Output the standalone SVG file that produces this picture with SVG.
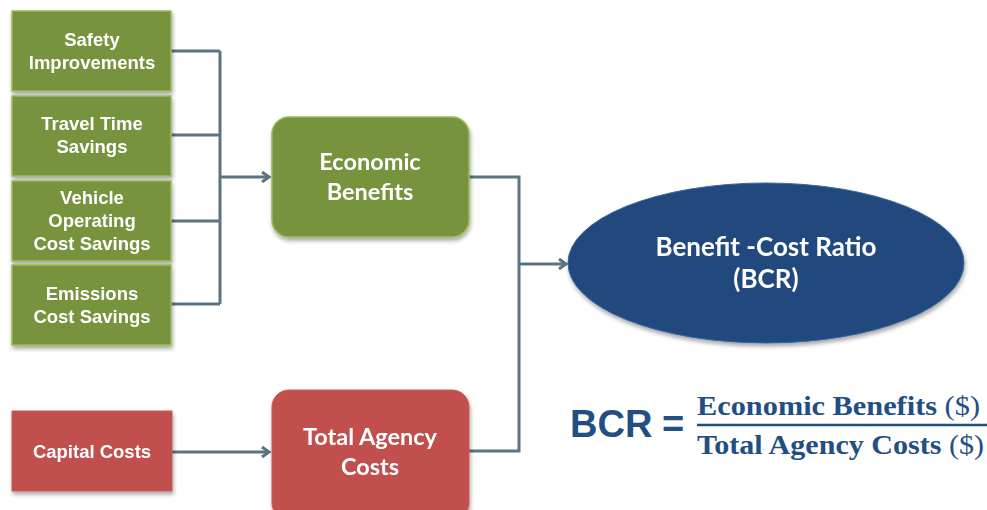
<svg xmlns="http://www.w3.org/2000/svg" width="987" height="510" viewBox="0 0 987 510">
<style>
.g{fill:#77933C;stroke:#9BBB59;stroke-width:1.5}
.r{fill:#C0504D;stroke:#C75A57;stroke-width:1}
.t{font-family:"Liberation Sans",Arial,sans-serif;font-weight:bold;font-size:18.5px;fill:#fff;text-anchor:middle}
.c{font-family:Lato,"Open Sans",sans-serif;font-weight:bold;font-size:23.5px;fill:#fff;text-anchor:middle}
.ln{fill:none;stroke:#5A7581;stroke-width:3}
.f{font-family:"Liberation Serif","DejaVu Serif",serif;font-weight:bold;font-size:28px;fill:#224E83}
.d{font-weight:normal}
</style>
<defs>
<filter id="sh" x="-10%" y="-10%" width="125%" height="130%">
<feGaussianBlur in="SourceAlpha" stdDeviation="2"/>
<feOffset dx="1" dy="3"/>
<feComponentTransfer><feFuncA type="linear" slope="0.35"/></feComponentTransfer>
<feMerge><feMergeNode/><feMergeNode in="SourceGraphic"/></feMerge>
</filter>
<marker id="ar" markerWidth="12" markerHeight="12" refX="8" refY="6" orient="auto" markerUnits="userSpaceOnUse">
<path d="M1,1 L8,6 L1,11" fill="none" stroke="#5A7581" stroke-width="3"/>
</marker>
</defs>
<g id="connectors">
<path class="ln" d="M171,51 H220 M171,135 H220 M171,221 H220 M171,304 H220 M220,51 V304"/>
<path class="ln" d="M220,177 H269" marker-end="url(#ar)"/>
<path class="ln" d="M172,452 H269" marker-end="url(#ar)"/>
<path class="ln" d="M469,177 H519 V451 H469"/>
<path class="ln" d="M519,264 H566" marker-end="url(#ar)"/>
</g>
<g id="safety" filter="url(#sh)"><rect class="g" x="12" y="11" width="159" height="80"/>
<text class="t" x="92" y="46">Safety</text><text class="t" x="92" y="69">Improvements</text></g>
<g id="travel" filter="url(#sh)"><rect class="g" x="12" y="96" width="159" height="80"/>
<text class="t" x="92" y="130">Travel Time</text><text class="t" x="92" y="153">Savings</text></g>
<g id="vehicle" filter="url(#sh)"><rect class="g" x="12" y="181" width="159" height="80"/>
<text class="t" x="92" y="204">Vehicle</text><text class="t" x="92" y="227">Operating</text><text class="t" x="92" y="250">Cost Savings</text></g>
<g id="emissions" filter="url(#sh)"><rect class="g" x="12" y="265" width="159" height="80"/>
<text class="t" x="92" y="300">Emissions</text><text class="t" x="92" y="323">Cost Savings</text></g>
<g id="capital" filter="url(#sh)"><rect class="r" x="12" y="411" width="160" height="80"/>
<text class="t" x="92" y="458">Capital Costs</text></g>
<g id="economic" filter="url(#sh)"><rect class="g" x="272" y="117" width="197" height="120" rx="17"/>
<text class="c" x="370" y="170">Economic</text><text class="c" x="370" y="200">Benefits</text></g>
<g id="agency" filter="url(#sh)"><rect class="r" x="272" y="390" width="197" height="130" rx="17"/>
<text class="c" x="370" y="445">Total Agency</text><text class="c" x="370" y="475">Costs</text></g>
<g id="bcr" filter="url(#sh)"><ellipse cx="766" cy="263" rx="198" ry="80" fill="#214A7D" stroke="#3A65A0" stroke-width="1"/>
<text class="c" x="766" y="256" style="font-size:26px">Benefit -Cost Ratio</text><text class="c" x="766" y="288" style="font-size:26px">(BCR)</text></g>
<g id="formula">
<text x="570" y="437" style="font-family:'Liberation Sans',Arial,sans-serif;font-weight:bold;font-size:38px;fill:#224E83">BCR <tspan x="662">=</tspan></text>
<text class="f" x="697" y="415" textLength="283" lengthAdjust="spacingAndGlyphs">Economic Benefits <tspan class="d">($)</tspan></text>
<line x1="697" y1="425" x2="987" y2="425" stroke="#224E83" stroke-width="2.5"/>
<text class="f" x="697" y="454" textLength="287" lengthAdjust="spacingAndGlyphs">Total Agency Costs <tspan class="d">($)</tspan></text>
</g>
</svg>
